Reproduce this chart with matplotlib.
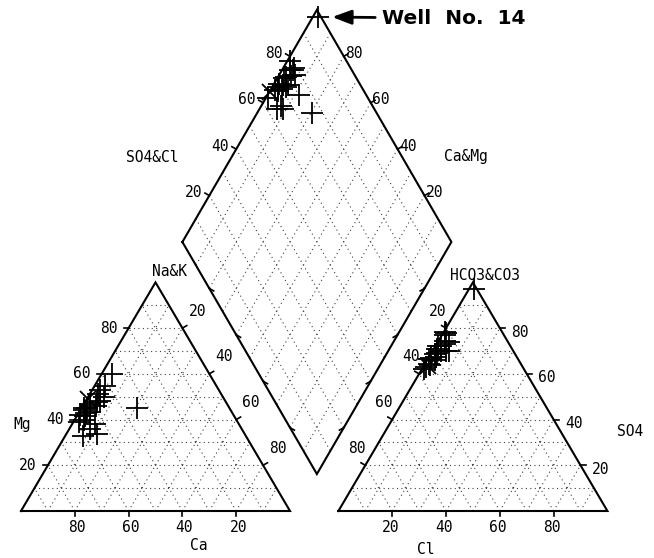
import numpy as np
import matplotlib
matplotlib.use('Agg')
import matplotlib.pyplot as plt

# ---------------- data (percent of meq/l) ----------------
# cations
na = [2.0, 4.0, 20.5, 4.0, 3.0, 5.0, 4.0, 3.0, 5.5, 6.5, 11.5, 7.5, 2.0, 1.5,
      3.5, 1.0, 6.0, 1.0, 8.5, 3.0, 2.0, 4.5, 0.5, 2.5]
mg = [45.0, 60.0, 45.0, 54.5, 51.0, 46.0, 43.5, 41.5, 48.0, 33.0, 33.5, 36.0,
      47.0, 44.0, 40.0, 45.0, 50.0, 42.0, 38.0, 53.0, 39.0, 47.5, 49.0, 43.0]
# anions
hco3 = [1.0, 22.0, 24.0, 21.0, 26.0, 28.0, 30.0, 32.0, 27.0, 36.0, 25.0, 34.0,
        30.0, 33.0, 29.0, 21.0, 22.0, 37.0, 34.0, 23.0, 31.0, 24.0, 35.0, 27.0]
cl = [2.0, 1.0, 3.0, 0.5, 2.0, 1.0, 2.5, 1.0, 3.0, 1.0, 5.0, 2.0,
      1.5, 0.5, 2.0, 1.0, 4.0, 1.0, 1.5, 2.5, 3.0, 6.0, 1.5, 1.0]
markers = ['+'] * 22 + ['x', '+']

ticks = [20, 40, 60, 80]
grid_steps = [10, 20, 30, 40, 50, 60, 70, 80, 90]
annot_text = 'Well  No.  14'

na = np.array(na); mg = np.array(mg)
hco3 = np.array(hco3); cl = np.array(cl)
ca = 100 - na - mg
so4 = 100 - hco3 - cl

# ---------------- geometry ----------------
H = 0.866          # triangle height per 100 units
XR = 118.0         # left corner of anion triangle
DX, DY, DH = 110.0, 14.0, 87.9   # diamond bottom x, bottom y, half height
PXX, PXY = 2.69, 2.64           # pixels per data unit


def ltri(n, m):
    n = np.asarray(n, float); m = np.asarray(m, float)
    return n + 0.5 * m, H * m


def rtri(c, s):
    c = np.asarray(c, float); s = np.asarray(s, float)
    return XR + c + 0.5 * s, H * s


def dia(n, h):
    c = (100 - np.asarray(n, float)) / 100.0
    s = (100 - np.asarray(h, float)) / 100.0
    return DX + 50 * (s - c), DY + DH * (s + c)


fig = plt.figure(figsize=(6.54, 5.58), dpi=100)
ax = fig.add_axes([0, 0, 1, 1])
ax.set_xlim(-21 / PXX, (654 - 21) / PXX)
ax.set_ylim(-47 / PXY, 511 / PXY)
ax.axis('off')

edge_kw = dict(color='black', lw=1.5, solid_joinstyle='miter', zorder=3)
grid_kw = dict(color='0.25', lw=0.8, linestyle=(0, (1, 3)), zorder=1)
font = dict(family='DejaVu Sans Mono', fontsize=10.5, color='black')

# outlines
x, y = ltri([0, 100, 0, 0], [0, 0, 100, 0]); ax.plot(x, y, **edge_kw)
x, y = rtri([0, 100, 0, 0], [0, 0, 100, 0]); ax.plot(x, y, **edge_kw)
x, y = dia([0, 100, 100, 0, 0], [100, 100, 0, 0, 100]); ax.plot(x, y, **edge_kw)

# grids
for k in grid_steps:
    x, y = ltri([0, 100 - k], [k, k]); ax.plot(x, y, **grid_kw)
    x, y = ltri([k, k], [0, 100 - k]); ax.plot(x, y, **grid_kw)
    x, y = ltri([100 - k, 0], [0, 100 - k]); ax.plot(x, y, **grid_kw)
    x, y = rtri([0, 100 - k], [k, k]); ax.plot(x, y, **grid_kw)
    x, y = rtri([k, k], [0, 100 - k]); ax.plot(x, y, **grid_kw)
    x, y = rtri([100 - k, 0], [0, 100 - k]); ax.plot(x, y, **grid_kw)
    x, y = dia([k, k], [0, 100]); ax.plot(x, y, **grid_kw)
    x, y = dia([0, 100], [k, k]); ax.plot(x, y, **grid_kw)

TL = 5.0  # tick length px


def tick(x0, y0, dxp, dyp):
    ax.plot([x0, x0 + dxp / PXX], [y0, y0 + dyp / PXY], color='black', lw=1.2, zorder=3)


def lab(x0, y0, s, ox, oy, **kw):
    ax.annotate(s, (x0, y0), xytext=(ox * 0.72, -oy * 0.72), textcoords='offset points',
                ha='center', va='center', **font, **kw)


for v in ticks:
    # cation triangle: Mg on left edge
    x0, y0 = ltri(0, v); tick(x0, y0, -TL, 0); lab(x0, y0, str(v), -20, 0)
    # Ca on bottom
    x0, y0 = ltri(100 - v, 0); tick(x0, y0, 0, -TL); lab(x0, y0, str(v), 2, 16)
    # Na&K on right edge
    x0, y0 = ltri(v, 100 - v); tick(x0, y0, TL * 0.87, TL * 0.5); lab(x0, y0, str(v), 15, -17)
    # anion triangle: HCO3 on left edge
    x0, y0 = rtri(0, 100 - v); tick(x0, y0, -TL * 0.87, TL * 0.5); lab(x0, y0, str(v), -8, -17)
    # SO4 on right edge
    x0, y0 = rtri(100 - v, v); tick(x0, y0, TL, 0); lab(x0, y0, str(v), 20, 4)
    # Cl on bottom
    x0, y0 = rtri(v, 0); tick(x0, y0, 0, -TL); lab(x0, y0, str(v), -2, 16)
    # diamond upper-left: SO4&Cl
    x0, y0 = dia(0, 100 - v); tick(x0, y0, -TL * 0.87, TL * 0.5); lab(x0, y0, str(v), -16, -3)
    # diamond upper-right: Ca&Mg
    x0, y0 = dia(100 - v, 0); tick(x0, y0, TL * 0.87, TL * 0.5); lab(x0, y0, str(v), 10, -3)
    # diamond lower edges
    x0, y0 = dia(100, v); tick(x0, y0, -TL * 0.87, -TL * 0.5)
    x0, y0 = dia(v, 100); tick(x0, y0, TL * 0.87, -TL * 0.5)

# axis names (pixel positions converted to data)
def pxlab(px, py, s):
    ax.text((px - 21) / PXX, (511 - py) / PXY, s, ha='center', va='center', **font)

pxlab(152, 157, 'SO4&Cl')
pxlab(466, 157, 'Ca&Mg')
pxlab(170, 272, 'Na&K')
pxlab(485, 276, 'HCO3&CO3')
pxlab(22, 425, 'Mg')
pxlab(199, 546, 'Ca')
pxlab(426, 549, 'Cl')
pxlab(630, 432, 'SO4')

# samples
for i in range(len(na)):
    mk = markers[i]
    ms = 16 if mk == '+' else 11
    for (px_, py_) in (ltri(na[i], mg[i]), rtri(cl[i], so4[i]), dia(na[i], hco3[i])):
        ax.plot(px_, py_, mk, ms=ms, mew=1.3, color='black', zorder=4)

# annotation for well 14
wx, wy = dia(na[0], hco3[0])
ax.annotate(annot_text, (wx, wy), xytext=(46, -1), textcoords='offset points',
            ha='left', va='center', fontsize=14.5, fontweight='bold',
            family='DejaVu Sans',
            arrowprops=dict(arrowstyle='-|>,head_length=0.8,head_width=0.3', color='black',
                            lw=2, shrinkA=3, shrinkB=10))

fig.savefig('out.png', dpi=100)
